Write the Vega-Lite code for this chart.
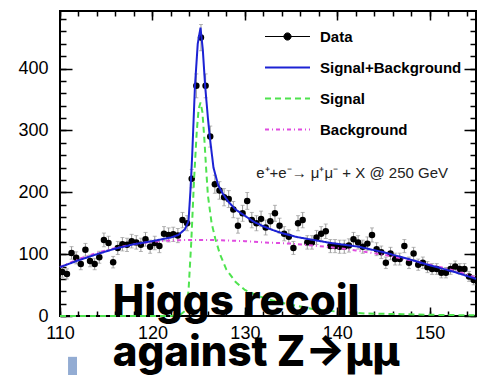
{
  "$schema": "https://vega.github.io/schema/vega-lite/v6.json",
  "width": 416,
  "height": 305,
  "autosize": {"type": "none"},
  "padding": {"left": 60, "top": 11, "right": 11, "bottom": 59},
  "background": "white",
  "config": {
    "view": {"stroke": "black", "strokeWidth": 2},
    "axis": {
      "domain": false, "grid": false,
      "labelFont": "Liberation Sans", "labelFontSize": 18, "labelColor": "black",
      "tickColor": "black", "tickWidth": 1.5
    },
    "legend": {
      "orient": "none", "legendX": 220, "legendY": 18, "title": null,
      "symbolSize": 2025, "symbolStrokeWidth": 2, "symbolType": "stroke",
      "labelFont": "Liberation Sans", "labelFontSize": 15, "labelFontWeight": "bold",
      "labelColor": "black", "rowPadding": 15, "labelOffset": 25
    }
  },
  "datasets": {
    "pts": [
      {"x":110.25,"v":71,"e":8.4},{"x":110.75,"v":68,"e":8.2},{"x":111.25,"v":102,"e":10.1},{"x":111.75,"v":94,"e":9.7},
      {"x":112.25,"v":84,"e":9.2},{"x":112.75,"v":107,"e":10.3},{"x":113.25,"v":89,"e":9.4},{"x":113.75,"v":84,"e":9.2},
      {"x":114.25,"v":95,"e":9.7},{"x":114.75,"v":123,"e":11.1},{"x":115.25,"v":118,"e":10.9},{"x":115.75,"v":87,"e":9.3},
      {"x":116.25,"v":110,"e":10.5},{"x":116.75,"v":116,"e":10.8},{"x":117.25,"v":115,"e":10.7},{"x":117.75,"v":121,"e":11},
      {"x":118.25,"v":119,"e":10.9},{"x":118.75,"v":115,"e":10.7},{"x":119.25,"v":124,"e":11.1},{"x":119.75,"v":112,"e":10.6},
      {"x":120.25,"v":118,"e":10.9},{"x":120.75,"v":113,"e":10.6},{"x":121.25,"v":133,"e":11.5},{"x":121.75,"v":131,"e":11.4},
      {"x":122.25,"v":132,"e":11.5},{"x":122.75,"v":130,"e":11.4},{"x":123.25,"v":155,"e":12.4},{"x":123.75,"v":150,"e":12.2},
      {"x":124.25,"v":222,"e":14.9},{"x":124.75,"v":372,"e":19.3},{"x":125.25,"v":450,"e":21.2},{"x":125.75,"v":372,"e":19.3},
      {"x":126.25,"v":290,"e":17},{"x":126.75,"v":213,"e":14.6},{"x":127.25,"v":203,"e":14.2},{"x":127.75,"v":192,"e":13.9},
      {"x":128.25,"v":189,"e":13.7},{"x":128.75,"v":172,"e":13.1},{"x":129.25,"v":146,"e":12.1},{"x":129.75,"v":166,"e":12.9},
      {"x":130.25,"v":186,"e":13.6},{"x":130.75,"v":155,"e":12.4},{"x":131.25,"v":150,"e":12.2},{"x":131.75,"v":157,"e":12.5},
      {"x":132.25,"v":143,"e":12},{"x":132.75,"v":153,"e":12.4},{"x":133.25,"v":166,"e":12.9},{"x":133.75,"v":146,"e":12.1},
      {"x":134.25,"v":133,"e":11.5},{"x":134.75,"v":128,"e":11.3},{"x":135.25,"v":110,"e":10.5},{"x":135.75,"v":150,"e":12.2},
      {"x":136.25,"v":155,"e":12.4},{"x":136.75,"v":119,"e":10.9},{"x":137.25,"v":119,"e":10.9},{"x":137.75,"v":127,"e":11.3},
      {"x":138.25,"v":133,"e":11.5},{"x":138.75,"v":137,"e":11.7},{"x":139.25,"v":113,"e":10.6},{"x":139.75,"v":113,"e":10.6},
      {"x":140.25,"v":112,"e":10.6},{"x":140.75,"v":112,"e":10.6},{"x":141.25,"v":114,"e":10.7},{"x":141.75,"v":124,"e":11.1},
      {"x":142.25,"v":119,"e":10.9},{"x":142.75,"v":112,"e":10.6},{"x":143.25,"v":117,"e":10.8},{"x":143.75,"v":131,"e":11.4},
      {"x":144.25,"v":108,"e":10.4},{"x":144.75,"v":103,"e":10.1},{"x":145.25,"v":86,"e":9.3},{"x":145.75,"v":101,"e":10},
      {"x":146.25,"v":92,"e":9.6},{"x":146.75,"v":92,"e":9.6},{"x":147.25,"v":113,"e":10.6},{"x":147.75,"v":86,"e":9.3},
      {"x":148.25,"v":101,"e":10},{"x":148.75,"v":83,"e":9.1},{"x":149.25,"v":86,"e":9.3},{"x":149.75,"v":79,"e":8.9},
      {"x":150.25,"v":76,"e":8.7},{"x":150.75,"v":76,"e":8.7},{"x":151.25,"v":70,"e":8.4},{"x":151.75,"v":70,"e":8.4},
      {"x":152.25,"v":76,"e":8.7},{"x":152.75,"v":80,"e":8.9},{"x":153.25,"v":76,"e":8.7},{"x":153.75,"v":76,"e":8.7},
      {"x":154.25,"v":64,"e":8},{"x":154.75,"v":58,"e":7.6}
    ],
    "curves": [
      {"series":"Background","x":110,"y":79},{"series":"Background","x":112,"y":92},{"series":"Background","x":114,"y":102},
      {"series":"Background","x":116,"y":110},{"series":"Background","x":118,"y":116},{"series":"Background","x":120,"y":120},
      {"series":"Background","x":122,"y":122},{"series":"Background","x":124,"y":123},{"series":"Background","x":126,"y":123},
      {"series":"Background","x":128,"y":122},{"series":"Background","x":130,"y":121},{"series":"Background","x":132,"y":119},
      {"series":"Background","x":135,"y":117},{"series":"Background","x":138,"y":113},{"series":"Background","x":140,"y":110},
      {"series":"Background","x":142,"y":106},{"series":"Background","x":145,"y":99},{"series":"Background","x":148,"y":90},
      {"series":"Background","x":150,"y":83},{"series":"Background","x":152,"y":76},{"series":"Background","x":154,"y":67},
      {"series":"Background","x":155,"y":62},

      {"series":"Signal","x":110,"y":0},{"series":"Signal","x":122,"y":0},{"series":"Signal","x":123,"y":2},
      {"series":"Signal","x":123.5,"y":8},{"series":"Signal","x":123.9,"y":40},{"series":"Signal","x":124.2,"y":120},
      {"series":"Signal","x":124.5,"y":220},{"series":"Signal","x":124.8,"y":300},{"series":"Signal","x":125,"y":335},
      {"series":"Signal","x":125.2,"y":345},{"series":"Signal","x":125.4,"y":330},{"series":"Signal","x":125.6,"y":290},
      {"series":"Signal","x":125.8,"y":240},{"series":"Signal","x":126,"y":195},{"series":"Signal","x":126.4,"y":150},
      {"series":"Signal","x":126.8,"y":125},{"series":"Signal","x":127.3,"y":100},{"series":"Signal","x":128,"y":75},
      {"series":"Signal","x":129,"y":55},{"series":"Signal","x":130,"y":42},{"series":"Signal","x":131.5,"y":32},
      {"series":"Signal","x":133,"y":25},{"series":"Signal","x":135,"y":18},{"series":"Signal","x":137.5,"y":11},
      {"series":"Signal","x":140,"y":7},{"series":"Signal","x":143,"y":4},{"series":"Signal","x":147,"y":3},
      {"series":"Signal","x":150,"y":2},{"series":"Signal","x":155,"y":1},

      {"series":"Signal+Background","x":110,"y":79},{"series":"Signal+Background","x":112,"y":90},
      {"series":"Signal+Background","x":114,"y":100},{"series":"Signal+Background","x":116,"y":109},
      {"series":"Signal+Background","x":118,"y":116},{"series":"Signal+Background","x":120,"y":121},
      {"series":"Signal+Background","x":121,"y":124},{"series":"Signal+Background","x":122,"y":127},
      {"series":"Signal+Background","x":122.8,"y":131},{"series":"Signal+Background","x":123.5,"y":140},
      {"series":"Signal+Background","x":123.9,"y":153},{"series":"Signal+Background","x":124.1,"y":200},
      {"series":"Signal+Background","x":124.3,"y":260},{"series":"Signal+Background","x":124.6,"y":372},
      {"series":"Signal+Background","x":124.9,"y":440},{"series":"Signal+Background","x":125.2,"y":466},
      {"series":"Signal+Background","x":125.45,"y":430},{"series":"Signal+Background","x":125.7,"y":372},
      {"series":"Signal+Background","x":126,"y":320},{"series":"Signal+Background","x":126.2,"y":290},
      {"series":"Signal+Background","x":126.6,"y":240},{"series":"Signal+Background","x":127.1,"y":212},
      {"series":"Signal+Background","x":127.6,"y":198},{"series":"Signal+Background","x":128.2,"y":185},
      {"series":"Signal+Background","x":129,"y":172},{"series":"Signal+Background","x":130,"y":162},
      {"series":"Signal+Background","x":131,"y":152},{"series":"Signal+Background","x":132,"y":145},
      {"series":"Signal+Background","x":133,"y":139},{"series":"Signal+Background","x":134,"y":134},
      {"series":"Signal+Background","x":135.5,"y":128},{"series":"Signal+Background","x":137,"y":124},
      {"series":"Signal+Background","x":139.3,"y":118},{"series":"Signal+Background","x":142.3,"y":112},
      {"series":"Signal+Background","x":145,"y":103},{"series":"Signal+Background","x":147.5,"y":93},
      {"series":"Signal+Background","x":150,"y":82},{"series":"Signal+Background","x":152.5,"y":72},
      {"series":"Signal+Background","x":155,"y":60}
    ],
    "one": [{}]
  },
  "resolve": {"axis": {"x": "independent", "y": "independent"}},
  "layer": [
    {
      "data": {"name": "pts"},
      "mark": {"type": "errorbar", "ticks": {"size": 4, "color": "#999999"}, "rule": {"color": "#999999", "strokeWidth": 1}},
      "encoding": {
        "x": {"field": "x", "type": "quantitative", "scale": {"domain": [110, 155], "nice": false, "zero": false},
              "axis": {"orient": "bottom", "title": null, "values": [110,120,130,140,150], "tickSize": -9, "labelPadding": 17, "labelFlush": false, "format": "d"}},
        "y": {"field": "v", "type": "quantitative", "scale": {"domain": [0, 493], "nice": false, "zero": false},
              "axis": {"orient": "left", "title": null, "values": [0,100,200,300,400], "tickSize": -12, "labelPadding": 24, "labelFlush": false, "format": "d"}},
        "yError": {"field": "e"}
      }
    },
    {
      "data": {"name": "pts"},
      "mark": {"type": "point", "filled": true, "color": "black", "opacity": 1, "size": 42},
      "encoding": {
        "x": {"field": "x", "type": "quantitative",
              "axis": {"orient": "bottom", "title": null, "values": [110,112,114,116,118,120,122,124,126,128,130,132,134,136,138,140,142,144,146,148,150,152,154], "tickSize": -5, "labels": false}},
        "y": {"field": "v", "type": "quantitative",
              "axis": {"orient": "left", "title": null, "values": [0,20,40,60,80,100,120,140,160,180,200,220,240,260,280,300,320,340,360,380,400,420,440,460,480], "tickSize": -6, "labels": false}}
      }
    },
    {
      "data": {"name": "curves"},
      "mark": {"type": "line", "strokeWidth": 2},
      "encoding": {
        "x": {"field": "x", "type": "quantitative",
              "axis": {"orient": "top", "title": null, "values": [110,120,130,140,150], "tickSize": -9, "labels": false}},
        "y": {"field": "y", "type": "quantitative",
              "axis": {"orient": "right", "title": null, "values": [0,100,200,300,400], "tickSize": -12, "labels": false}},
        "color": {"field": "series", "type": "nominal",
                  "scale": {"domain": ["Data", "Signal+Background", "Signal", "Background"], "range": ["black", "#1c22d4", "#4fe34f", "#e04be0"]},
                  "legend": {
                    "encode": {"symbols": {"update": {
                      "shape": {"signal": "datum.value === 'Data' ? 'M-1,0H1M-0.16,0A0.16,0.16,0,1,1,0.16,0A0.16,0.16,0,1,1,-0.16,0Z' : 'stroke'"},
                      "fill": {"signal": "datum.value === 'Data' ? 'black' : 'transparent'"},
                      "stroke": {"signal": "datum.value === 'Data' ? '#aaaaaa' : scale('color', datum.value)"},
                      "strokeDash": {"signal": "datum.value === 'Signal' ? [6,4] : datum.value === 'Background' ? [4,3,1,3] : [1,0]"},
                      "strokeWidth": {"signal": "datum.value === 'Data' ? 1 : 2"}
                    }}}
                  }},
        "strokeDash": {"field": "series", "type": "nominal",
                       "scale": {"domain": ["Data", "Signal+Background", "Signal", "Background"], "range": [[1,0],[1,0],[6,4],[4,3,1,3]]},
                       "legend": null},
        "order": {"field": "x", "type": "quantitative"}
      }
    },
    {
      "data": {"name": "one"},
      "mark": {"type": "text", "text": "e⁺+e⁻→ μ⁺μ⁻ + X @ 250 GeV", "font": "Liberation Sans", "fontSize": 15, "align": "center", "baseline": "middle", "color": "#222222"},
      "encoding": {
        "x": {"datum": 141.6, "type": "quantitative",
              "axis": {"orient": "top", "title": null, "values": [110,112,114,116,118,120,122,124,126,128,130,132,134,136,138,140,142,144,146,148,150,152,154], "tickSize": -5, "labels": false}},
        "y": {"datum": 231, "type": "quantitative",
              "axis": {"orient": "right", "title": null, "values": [0,20,40,60,80,100,120,140,160,180,200,220,240,260,280,300,320,340,360,380,400,420,440,460,480], "tickSize": -6, "labels": false}}
      }
    },
    {
      "data": {"name": "one"},
      "mark": {"type": "rect", "color": "#93acd3", "clip": false},
      "encoding": {
        "x": {"datum": 110.87, "type": "quantitative", "axis": null},
        "x2": {"datum": 111.84},
        "y": {"datum": -66, "type": "quantitative", "axis": null},
        "y2": {"datum": -100}
      }
    },
    {
      "data": {"name": "one"},
      "mark": {"type": "text", "text": "Higgs recoil", "font": "Inter", "fontWeight": 800, "fontSize": 42, "align": "left", "baseline": "alphabetic", "color": "black", "clip": false},
      "encoding": {
        "x": {"datum": 115.7, "type": "quantitative", "axis": null},
        "y": {"datum": 1, "type": "quantitative", "axis": null}
      }
    },
    {
      "data": {"name": "one"},
      "mark": {"type": "text", "text": "against Z→μμ", "font": "Inter", "fontWeight": 800, "fontSize": 42, "align": "left", "baseline": "alphabetic", "color": "black", "clip": false},
      "encoding": {
        "x": {"datum": 115.7, "type": "quantitative", "axis": null},
        "y": {"datum": -81, "type": "quantitative", "axis": null}
      }
    }
  ]
}
